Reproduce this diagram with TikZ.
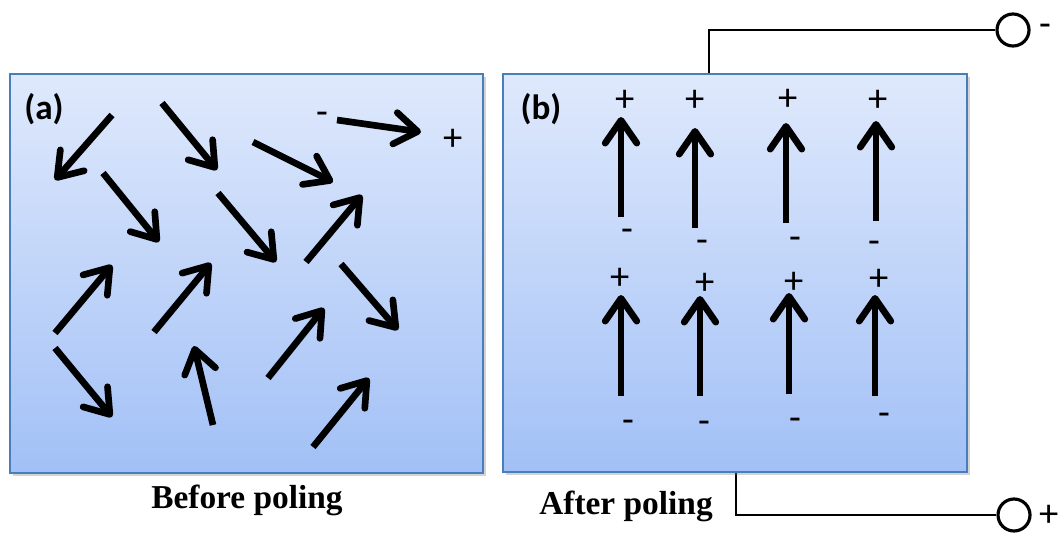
\documentclass[tikz,border=0pt]{standalone}
\usepackage{fontspec}
\setmainfont{Liberation Serif}
\newfontfamily\calfont{Carlito}
\usetikzlibrary{arrows.meta,shadows}
\definecolor{boxtop}{HTML}{DFE9FC}
\definecolor{boxbot}{HTML}{A2C0F6}
\definecolor{boxline}{HTML}{4A7EBB}
\begin{document}
\begin{tikzpicture}[x=0.02cm,y=-0.02cm,
  panel/.style={draw=boxline, line width=1.2pt, top color=boxtop, bottom color=boxbot,
    drop shadow={shadow xshift=1.5pt, shadow yshift=-1.5pt, opacity=0.35}},
  pol/.style={line width=3.8pt, -{Straight Barb[length=13pt,width=18pt,round]}},
  sign/.style={font=\calfont\fontsize{22}{22}\selectfont, inner sep=0pt},
  tag/.style={font=\calfont\bfseries\fontsize{20}{22}\selectfont, inner sep=0pt},
  captext/.style={font=\bfseries\fontsize{19}{22}\selectfont, inner sep=0pt},
  wire/.style={line width=1.1pt},
  term/.style={circle, draw, line width=1.8pt, minimum size=0.64cm, inner sep=0pt}]
\useasboundingbox (0,0) rectangle (1064,534);

% wires and terminals
\node[term] (tneg) at (1013,30) {};
\node[term] (tpos) at (1014,515) {};
\coordinate (wtop) at (709,74);
\coordinate (wbot) at (736,472);
\draw[wire] (wtop) |- (tneg.west);
\draw[wire] (wbot) |- (tpos.west);
\node[sign] (lneg) at (1045,30) {-};
\node[sign] (lpos) at (1049,516) {+};

% panels
\path[panel] (10,74) rectangle (483,473);
\path[panel] (503,74) rectangle (967,472);

\node[tag] (taga) at (44,109) {(a)};
\node[tag] (tagb) at (541,109) {(b)};

% panel (a): random dipoles
\draw[pol] (112,115) -- (55,180);
\draw[pol] (162,103) -- (217,170);
\draw[pol] (253,142) -- (333,182);
\draw[pol] (337,120) -- (421,132);
\draw[pol] (103,173) -- (159,242);
\draw[pol] (218,193) -- (276,262);
\draw[pol] (306,262) -- (362,195);
\draw[pol] (55,333) -- (112,265);
\draw[pol] (154,332) -- (211,263);
\draw[pol] (341,264) -- (398,330);
\draw[pol] (55,348) -- (112,417);
\draw[pol] (213,425) -- (194,346);
\draw[pol] (268,378) -- (324,308);
\draw[pol] (313,447) -- (369,378);
\node[sign] (am) at (322,118) {-};
\node[sign] (ap) at (453,140) {+};

% panel (b): aligned dipoles, top row
\draw[pol] (621,217) -- (621,117);
\draw[pol] (695,228) -- (695,128);
\draw[pol] (786,223) -- (786,123);
\draw[pol] (876,221) -- (876,121);
\node[sign] (p1) at (625,101) {+};
\node[sign] (p2) at (695,101) {+};
\node[sign] (p3) at (788,100) {+};
\node[sign] (p4) at (878,101) {+};
\node[sign] (m1) at (627,235) {-};
\node[sign] (m2) at (702,246) {-};
\node[sign] (m3) at (795,243) {-};
\node[sign] (m4) at (874,247) {-};

% bottom row
\draw[pol] (621,396) -- (621,295);
\draw[pol] (700,396) -- (700,296);
\draw[pol] (789,394) -- (789,293);
\draw[pol] (875,396) -- (875,295);
\node[sign] (p5) at (620,279) {+};
\node[sign] (p6) at (705,284) {+};
\node[sign] (p7) at (794,283) {+};
\node[sign] (p8) at (879,280) {+};
\node[sign] (m5) at (628,426) {-};
\node[sign] (m6) at (704,427) {-};
\node[sign] (m7) at (795,424) {-};
\node[sign] (m8) at (884,419) {-};

% captions
\node[captext] (capa) at (247,500) {Before poling};
\node[captext] (capb) at (626,506) {After poling};
\end{tikzpicture}
\end{document}
